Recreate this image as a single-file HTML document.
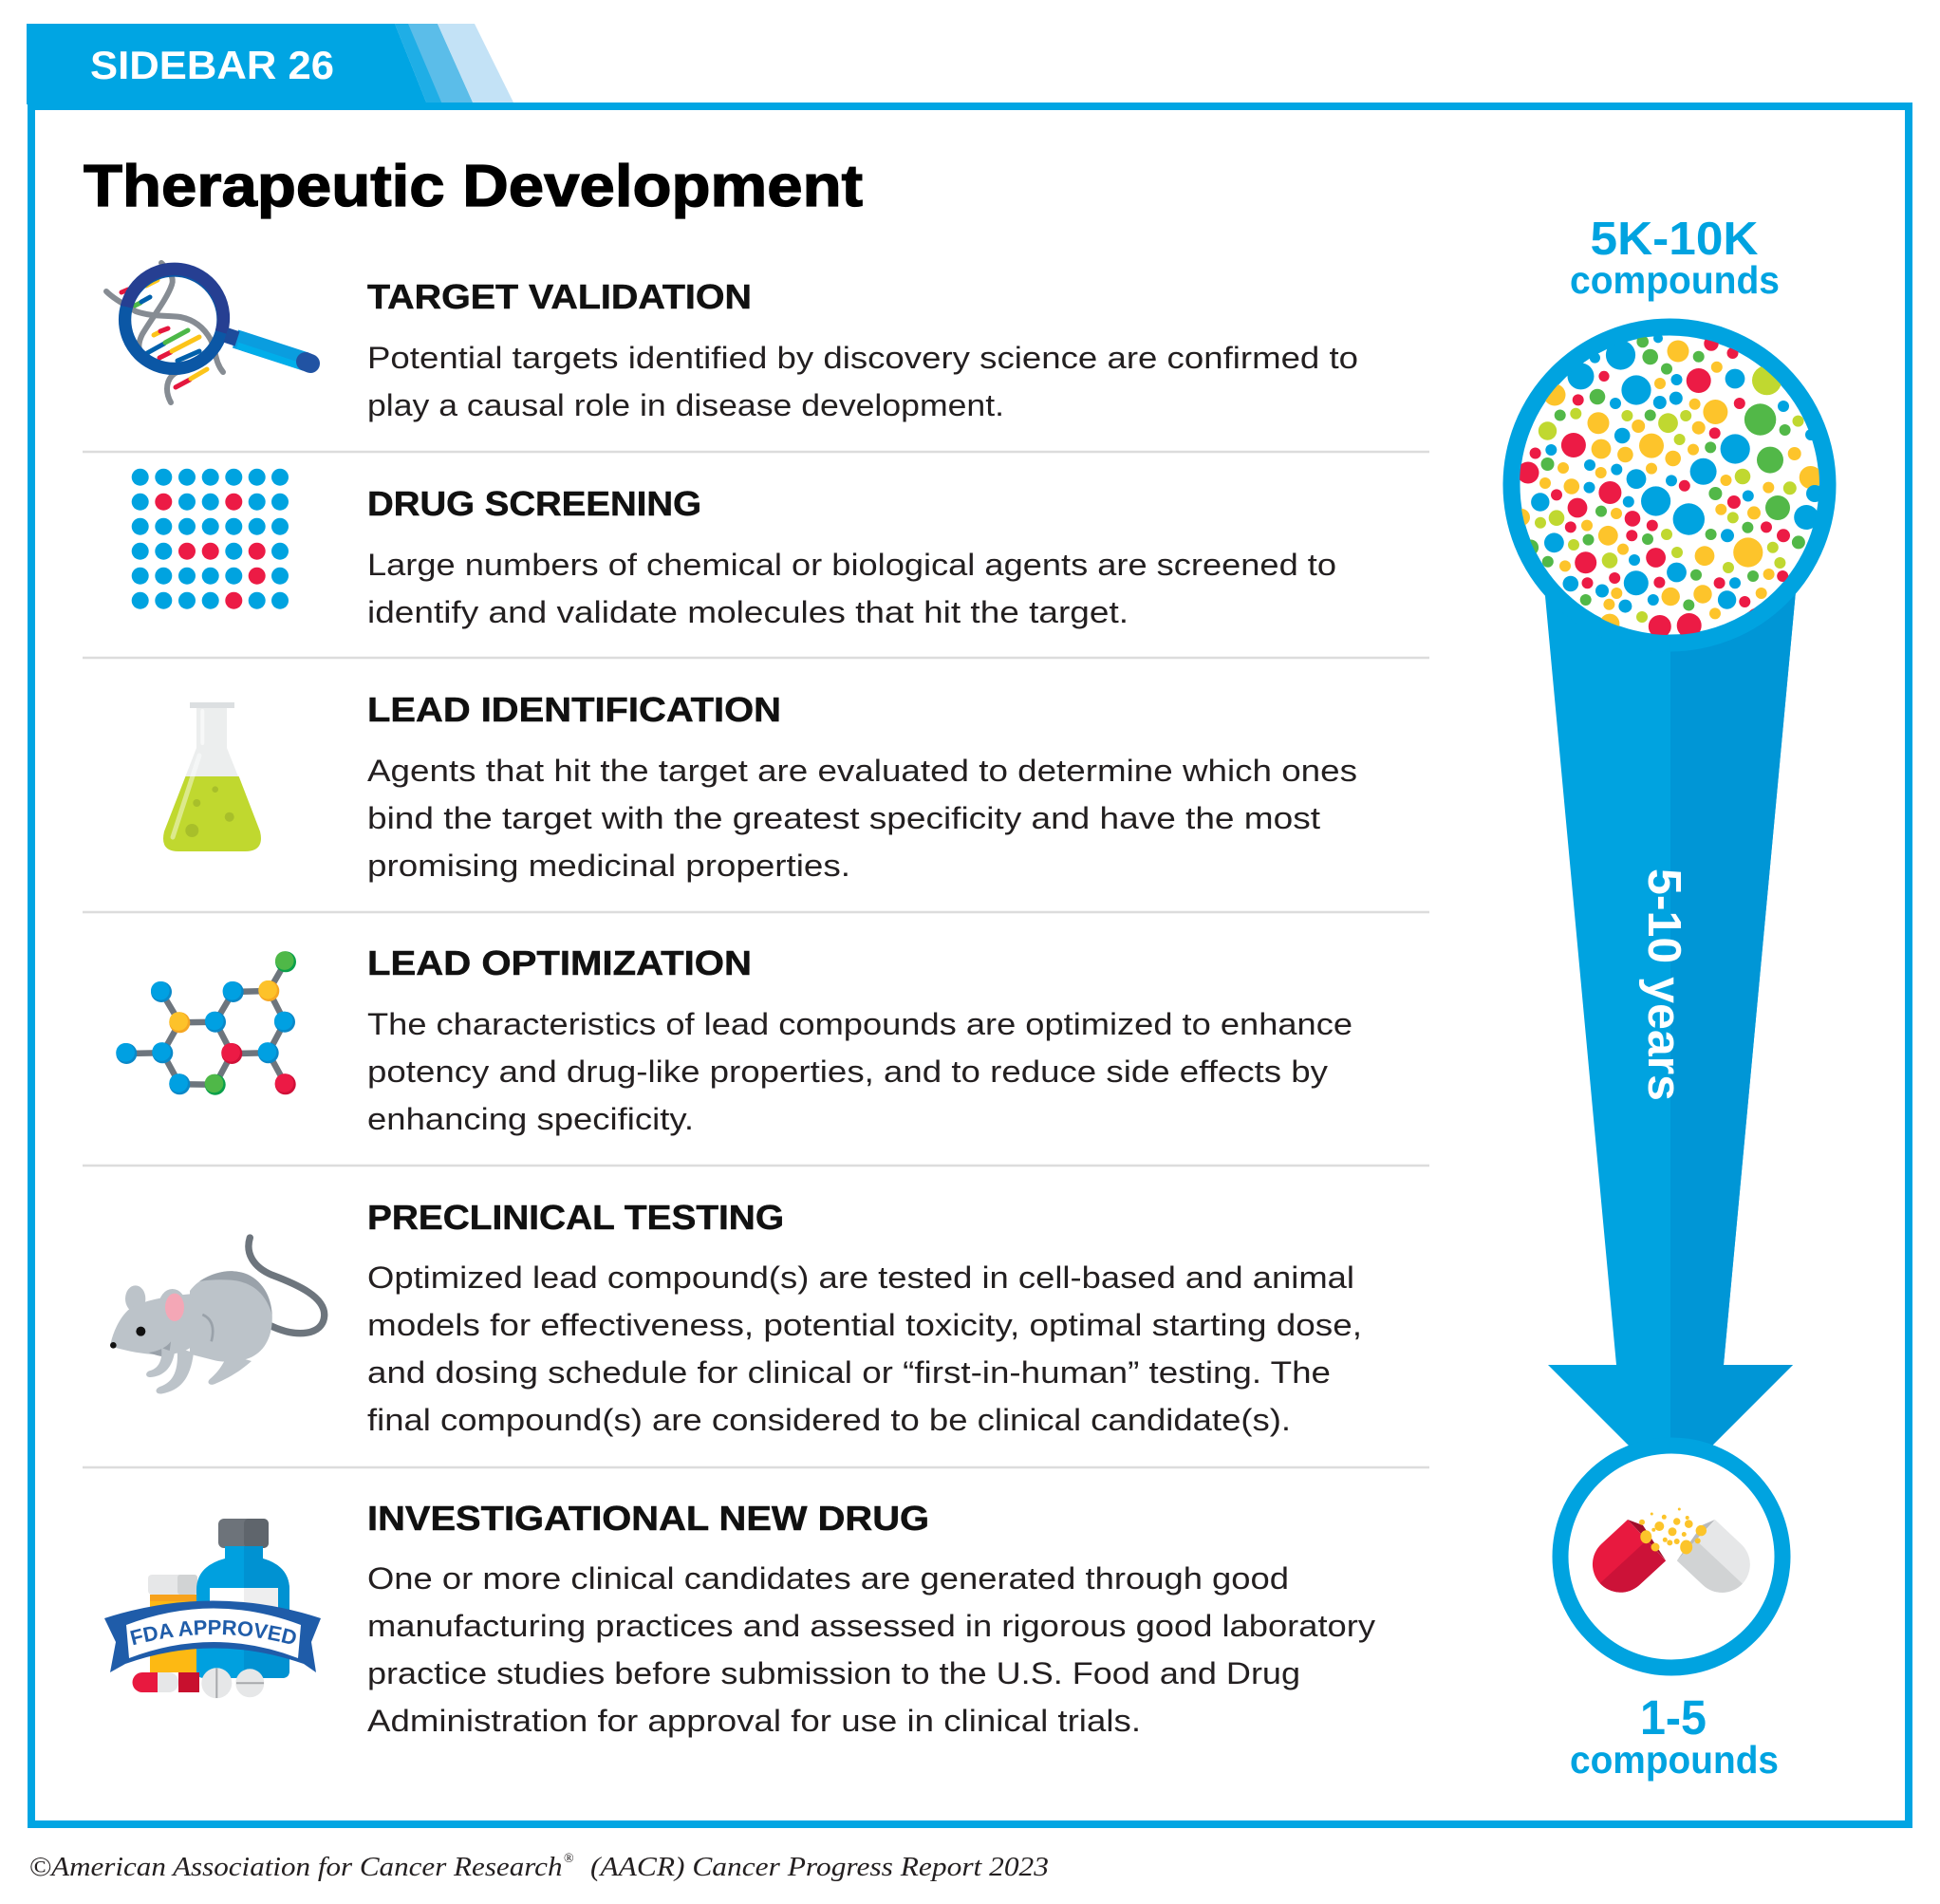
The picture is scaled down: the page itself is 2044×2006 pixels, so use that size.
<!DOCTYPE html>
<html><head><meta charset="utf-8"><style>
html,body{margin:0;padding:0;background:#fff;}
svg{display:block;}
.h{font-family:"Liberation Sans",Arial,sans-serif;font-weight:bold;font-size:36px;fill:#111;stroke:#111;stroke-width:0.5;}
.t{font-family:"Liberation Sans",Arial,sans-serif;font-size:32px;fill:#231f20;}
.b{fill:#00a3e0}.r{fill:#ec1b45}.y{fill:#fdc42b}.g{fill:#52b848}.l{fill:#c0d830}
</style></head><body>
<svg width="2044" height="2006" viewBox="0 0 2044 2006" xmlns="http://www.w3.org/2000/svg">
<defs>
<clipPath id="topc"><circle cx="1759" cy="511" r="158"/></clipPath>
</defs>
<rect width="2044" height="2006" fill="#fff"/>

<!-- Tab -->
<polygon points="28,25 416,25 450,110 28,110" fill="#00a5e3"/>
<polygon points="416,25 461,25 499,110 450,110" fill="#5bbde9"/>
<polygon points="416,25 430,25 466,110 450,110" fill="#1faee6"/>
<polygon points="461,25 500,25 542,110 499,110" fill="#c3e2f6"/>
<text x="95" y="83" font-family="Liberation Sans, Arial, sans-serif" font-weight="bold" font-size="42" fill="#fff" textLength="257" lengthAdjust="spacingAndGlyphs">SIDEBAR 26</text>

<!-- Box -->
<rect x="33" y="112" width="1978" height="1810" fill="none" stroke="#00a5e3" stroke-width="8"/>

<!-- Title -->
<text x="88" y="217" font-family="Liberation Sans, Arial, sans-serif" font-weight="bold" font-size="62" fill="#000" stroke="#000" stroke-width="1.3" textLength="821" lengthAdjust="spacingAndGlyphs">Therapeutic Development</text>

<!-- Dividers -->
<g stroke="#dcdcdc" stroke-width="2.5">
<line x1="87" y1="476" x2="1506" y2="476"/>
<line x1="87" y1="693" x2="1506" y2="693"/>
<line x1="87" y1="961" x2="1506" y2="961"/>
<line x1="87" y1="1228" x2="1506" y2="1228"/>
<line x1="87" y1="1546" x2="1506" y2="1546"/>
</g>

<!-- Headings -->
<text class="h" x="387" y="325" textLength="405" lengthAdjust="spacingAndGlyphs">TARGET VALIDATION</text>
<text class="h" x="387" y="543" textLength="352" lengthAdjust="spacingAndGlyphs">DRUG SCREENING</text>
<text class="h" x="387" y="760" textLength="436" lengthAdjust="spacingAndGlyphs">LEAD IDENTIFICATION</text>
<text class="h" x="387" y="1027" textLength="405" lengthAdjust="spacingAndGlyphs">LEAD OPTIMIZATION</text>
<text class="h" x="387" y="1295" textLength="439" lengthAdjust="spacingAndGlyphs">PRECLINICAL TESTING</text>
<text class="h" x="387" y="1612" textLength="592" lengthAdjust="spacingAndGlyphs">INVESTIGATIONAL NEW DRUG</text>

<!-- Body -->
<text class="t" x="387" y="388" textLength="1044" lengthAdjust="spacingAndGlyphs">Potential targets identified by discovery science are confirmed to</text>
<text class="t" x="387" y="438" textLength="671" lengthAdjust="spacingAndGlyphs">play a causal role in disease development.</text>

<text class="t" x="387" y="606" textLength="1021" lengthAdjust="spacingAndGlyphs">Large numbers of chemical or biological agents are screened to</text>
<text class="t" x="387" y="656" textLength="802" lengthAdjust="spacingAndGlyphs">identify and validate molecules that hit the target.</text>

<text class="t" x="387" y="823" textLength="1043" lengthAdjust="spacingAndGlyphs">Agents that hit the target are evaluated to determine which ones</text>
<text class="t" x="387" y="873" textLength="1004" lengthAdjust="spacingAndGlyphs">bind the target with the greatest specificity and have the most</text>
<text class="t" x="387" y="923" textLength="509" lengthAdjust="spacingAndGlyphs">promising medicinal properties.</text>

<text class="t" x="387" y="1090" textLength="1038" lengthAdjust="spacingAndGlyphs">The characteristics of lead compounds are optimized to enhance</text>
<text class="t" x="387" y="1140" textLength="1012" lengthAdjust="spacingAndGlyphs">potency and drug-like properties, and to reduce side effects by</text>
<text class="t" x="387" y="1190" textLength="344" lengthAdjust="spacingAndGlyphs">enhancing specificity.</text>

<text class="t" x="387" y="1357" textLength="1040" lengthAdjust="spacingAndGlyphs">Optimized lead compound(s) are tested in cell-based and animal</text>
<text class="t" x="387" y="1407" textLength="1048" lengthAdjust="spacingAndGlyphs">models for effectiveness, potential toxicity, optimal starting dose,</text>
<text class="t" x="387" y="1457" textLength="1015" lengthAdjust="spacingAndGlyphs">and dosing schedule for clinical or “first-in-human” testing. The</text>
<text class="t" x="387" y="1507" textLength="973" lengthAdjust="spacingAndGlyphs">final compound(s) are considered to be clinical candidate(s).</text>

<text class="t" x="387" y="1674" textLength="971" lengthAdjust="spacingAndGlyphs">One or more clinical candidates are generated through good</text>
<text class="t" x="387" y="1724" textLength="1062" lengthAdjust="spacingAndGlyphs">manufacturing practices and assessed in rigorous good laboratory</text>
<text class="t" x="387" y="1774" textLength="983" lengthAdjust="spacingAndGlyphs">practice studies before submission to the U.S. Food and Drug</text>
<text class="t" x="387" y="1824" textLength="815" lengthAdjust="spacingAndGlyphs">Administration for approval for use in clinical trials.</text>

<!-- Icon 1: magnifier with DNA -->
<g fill="none" stroke-linecap="round">
<path d="M170,277 C178,285 184,292 181,300 C176,315 160,335 150,352 C146,360 146,365 147,368" stroke="#868c93" stroke-width="6"/>
<path d="M112,307 C118,313 126,318 143,328 C160,334 175,332 190,334 C205,337 215,345 222,358 C228,370 226,381 235,392" stroke="#868c93" stroke-width="6"/>
<path d="M180,424 C175,415 174,404 181,396 C186,391 192,390 197,389" stroke="#868c93" stroke-width="6"/>
<line x1="128" y1="308" x2="135" y2="305" stroke="#e4173e" stroke-width="5"/>
<line x1="154" y1="301" x2="166" y2="295" stroke="#fcc419" stroke-width="5"/>
<line x1="142" y1="322" x2="148" y2="319" stroke="#4cb848" stroke-width="5"/>
<line x1="149" y1="318" x2="158" y2="313" stroke="#0060ab" stroke-width="5"/>
<line x1="162" y1="353" x2="168" y2="350" stroke="#fcc419" stroke-width="5"/>
<line x1="169" y1="349" x2="177" y2="346" stroke="#e4173e" stroke-width="5"/>
<line x1="155" y1="372" x2="173" y2="362" stroke="#0060ab" stroke-width="5"/>
<line x1="174" y1="361" x2="198" y2="348" stroke="#4cb848" stroke-width="5"/>
<line x1="168" y1="377" x2="180" y2="371" stroke="#e4173e" stroke-width="5"/>
<line x1="181" y1="370" x2="210" y2="355" stroke="#fcc419" stroke-width="5"/>
<line x1="187" y1="380" x2="210" y2="370" stroke="#0060ab" stroke-width="5"/>
<line x1="185" y1="408" x2="200" y2="400" stroke="#e4173e" stroke-width="5"/>
<line x1="201" y1="399" x2="218" y2="389" stroke="#fcc419" stroke-width="5"/>
</g>
<circle cx="183.3" cy="336.7" r="51.7" fill="none" stroke="#0b57a5" stroke-width="13.3"/>
<path d="M133.4,323.3 A51.7,51.7 0 1 1 233.2,350.1" fill="none" stroke="#263f92" stroke-width="13.3"/>
<line x1="248" y1="357" x2="322" y2="381" stroke="#0a9ddf" stroke-width="20"/>
<line x1="250" y1="364" x2="320" y2="387" stroke="#00aeea" stroke-width="7"/>
<line x1="322" y1="381" x2="327" y2="383" stroke="#2153a3" stroke-width="20" stroke-linecap="round"/>
<line x1="238" y1="353" x2="250" y2="357" stroke="#1d4b9b" stroke-width="16"/>

<!-- Icon 2: dot grid -->
<g>
<circle class="b" cx="147.7" cy="502.7" r="9"/><circle class="b" cx="172.3" cy="502.7" r="9"/><circle class="b" cx="197" cy="502.7" r="9"/><circle class="b" cx="221.7" cy="502.7" r="9"/><circle class="b" cx="246.3" cy="502.7" r="9"/><circle class="b" cx="270.7" cy="502.7" r="9"/><circle class="b" cx="295" cy="502.7" r="9"/>
<circle class="b" cx="147.7" cy="528.7" r="9"/><circle class="r" cx="172.3" cy="528.7" r="9"/><circle class="b" cx="197" cy="528.7" r="9"/><circle class="b" cx="221.7" cy="528.7" r="9"/><circle class="r" cx="246.3" cy="528.7" r="9"/><circle class="b" cx="270.7" cy="528.7" r="9"/><circle class="b" cx="295" cy="528.7" r="9"/>
<circle class="b" cx="147.7" cy="554.7" r="9"/><circle class="b" cx="172.3" cy="554.7" r="9"/><circle class="b" cx="197" cy="554.7" r="9"/><circle class="b" cx="221.7" cy="554.7" r="9"/><circle class="b" cx="246.3" cy="554.7" r="9"/><circle class="b" cx="270.7" cy="554.7" r="9"/><circle class="b" cx="295" cy="554.7" r="9"/>
<circle class="b" cx="147.7" cy="580.7" r="9"/><circle class="b" cx="172.3" cy="580.7" r="9"/><circle class="r" cx="197" cy="580.7" r="9"/><circle class="r" cx="221.7" cy="580.7" r="9"/><circle class="b" cx="246.3" cy="580.7" r="9"/><circle class="r" cx="270.7" cy="580.7" r="9"/><circle class="b" cx="295" cy="580.7" r="9"/>
<circle class="b" cx="147.7" cy="606.7" r="9"/><circle class="b" cx="172.3" cy="606.7" r="9"/><circle class="b" cx="197" cy="606.7" r="9"/><circle class="b" cx="221.7" cy="606.7" r="9"/><circle class="b" cx="246.3" cy="606.7" r="9"/><circle class="r" cx="270.7" cy="606.7" r="9"/><circle class="b" cx="295" cy="606.7" r="9"/>
<circle class="b" cx="147.7" cy="632.7" r="9"/><circle class="b" cx="172.3" cy="632.7" r="9"/><circle class="b" cx="197" cy="632.7" r="9"/><circle class="b" cx="221.7" cy="632.7" r="9"/><circle class="r" cx="246.3" cy="632.7" r="9"/><circle class="b" cx="270.7" cy="632.7" r="9"/><circle class="b" cx="295" cy="632.7" r="9"/>
</g>

<!-- Icon 3: flask -->
<rect x="200" y="740" width="47" height="6" fill="#dcdfe1"/>
<path d="M207,746 H239 V788 L274,876 Q279,897 258,897 H188 Q168,897 173,876 L207,788 Z" fill="#eceeee"/>
<path d="M195.5,818 H251.7 L274,876 Q279,897 258,897 H188 Q168,897 173,876 Z" fill="#c0d82f"/>
<circle cx="207.3" cy="846" r="4" fill="#a8bf2a"/>
<circle cx="226.7" cy="831.7" r="3.3" fill="#a8bf2a"/>
<circle cx="241.7" cy="860.7" r="5" fill="#a8bf2a"/>
<circle cx="202.3" cy="875" r="7" fill="#a8bf2a"/>
<line x1="213.3" y1="749" x2="213.3" y2="783" stroke="#fff" stroke-opacity="0.6" stroke-width="4" stroke-linecap="round"/>
<line x1="210" y1="796" x2="182" y2="882" stroke="#fff" stroke-opacity="0.45" stroke-width="5" stroke-linecap="round"/>

<!-- Icon 4: molecule -->
<g stroke="#6d757d" stroke-width="6.5" stroke-linecap="round">
<line x1="170" y1="1045" x2="189.3" y2="1077.3"/>
<line x1="189.3" y1="1077.3" x2="227" y2="1076.7"/>
<line x1="189.3" y1="1077.3" x2="171.3" y2="1109.3"/>
<line x1="171.3" y1="1109.3" x2="133.3" y2="1110"/>
<line x1="171.3" y1="1109.3" x2="189.3" y2="1142.3"/>
<line x1="189.3" y1="1142.3" x2="226.7" y2="1142.7"/>
<line x1="226.7" y1="1142.7" x2="244.3" y2="1110"/>
<line x1="244.3" y1="1110" x2="227" y2="1076.7"/>
<line x1="227" y1="1076.7" x2="245.7" y2="1045"/>
<line x1="245.7" y1="1045" x2="283.3" y2="1044"/>
<line x1="283.3" y1="1044" x2="301" y2="1013.3"/>
<line x1="283.3" y1="1044" x2="300" y2="1076.7"/>
<line x1="300" y1="1076.7" x2="282.7" y2="1109.3"/>
<line x1="282.7" y1="1109.3" x2="244.3" y2="1110"/>
<line x1="282.7" y1="1109.3" x2="300.7" y2="1142.3"/>
</g>
<g>
<circle cx="170" cy="1045" r="11" fill="#0a88c8"/><circle cx="168.8" cy="1043.8" r="9.8" fill="#00a0e2"/>
<circle cx="189.3" cy="1077.3" r="11" fill="#f5a623"/><circle cx="188.1" cy="1076.1" r="9.8" fill="#fdc22a"/>
<circle cx="227" cy="1076.7" r="11" fill="#0a88c8"/><circle cx="225.8" cy="1075.5" r="9.8" fill="#00a0e2"/>
<circle cx="245.7" cy="1045" r="11" fill="#0a88c8"/><circle cx="244.5" cy="1043.8" r="9.8" fill="#00a0e2"/>
<circle cx="283.3" cy="1044" r="11" fill="#f5a623"/><circle cx="282.1" cy="1042.8" r="9.8" fill="#fdc22a"/>
<circle cx="301" cy="1013.3" r="11" fill="#0aa04a"/><circle cx="299.8" cy="1012.1" r="9.8" fill="#4fb848"/>
<circle cx="300" cy="1076.7" r="11" fill="#0a88c8"/><circle cx="298.8" cy="1075.5" r="9.8" fill="#00a0e2"/>
<circle cx="282.7" cy="1109.3" r="11" fill="#0a88c8"/><circle cx="281.5" cy="1108.1" r="9.8" fill="#00a0e2"/>
<circle cx="300.7" cy="1142.3" r="11" fill="#d01038"/><circle cx="299.5" cy="1141.1" r="9.8" fill="#ec1a45"/>
<circle cx="244.3" cy="1110" r="11" fill="#d01038"/><circle cx="243.1" cy="1108.8" r="9.8" fill="#ec1a45"/>
<circle cx="226.7" cy="1142.7" r="11" fill="#0aa04a"/><circle cx="225.5" cy="1141.5" r="9.8" fill="#4fb848"/>
<circle cx="189.3" cy="1142.3" r="11" fill="#0a88c8"/><circle cx="188.1" cy="1141.1" r="9.8" fill="#00a0e2"/>
<circle cx="171.3" cy="1109.3" r="11" fill="#0a88c8"/><circle cx="170.1" cy="1108.1" r="9.8" fill="#00a0e2"/>
<circle cx="133.3" cy="1110" r="11" fill="#0a88c8"/><circle cx="132.1" cy="1108.8" r="9.8" fill="#00a0e2"/>
</g>

<!-- Icon 5: mouse -->
<g transform="translate(100,980) scale(0.33333)">
<path d="M555,1250 C640,1290 720,1280 725,1220 C730,1160 640,1120 560,1090 C500,1065 475,1020 490,972" fill="none" stroke="#6d757d" stroke-width="22" stroke-linecap="round"/>
<path d="M420,1340 C400,1385 380,1405 362,1420 C352,1432 365,1442 382,1433 C415,1418 455,1398 495,1362 Z" fill="#bcc3c9"/>
<path d="M300,1140 C330,1100 380,1078 430,1078 C500,1078 555,1130 560,1210 C565,1290 530,1345 470,1358 C430,1365 400,1365 380,1360 L300,1340 Z" fill="#bcc3c9"/>
<path d="M330,1110 C370,1085 410,1075 440,1078 C510,1082 555,1140 560,1215 C540,1150 500,1112 430,1106 C395,1103 360,1105 330,1110 Z" fill="#9aa2aa"/>
<path d="M340,1215 Q385,1235 368,1300" fill="none" stroke="#9aa2aa" stroke-width="8"/>
<path d="M260,1320 C265,1390 250,1428 205,1443 C188,1450 190,1468 212,1465 C268,1455 302,1420 312,1335 Z" fill="#bcc3c9"/>
<ellipse cx="128" cy="1165" rx="32" ry="42" fill="#bcc3c9"/>
<path d="M50,1305 C60,1260 90,1200 130,1185 C180,1165 240,1155 300,1150 L350,1240 C340,1300 300,1335 240,1340 C180,1345 120,1335 60,1318 Z" fill="#bcc3c9"/>
<path d="M170,1335 C200,1330 225,1320 240,1300 C238,1320 235,1340 230,1350 C210,1348 185,1342 170,1335 Z" fill="#9aa2aa"/>
<path d="M210,1320 C215,1360 200,1385 175,1392 C158,1396 158,1414 176,1413 C212,1410 242,1390 252,1335 Z" fill="#bcc3c9"/>
<ellipse cx="245" cy="1190" rx="44" ry="56" fill="#bcc3c9"/>
<ellipse cx="252" cy="1192" rx="30" ry="44" fill="#f4a7b6"/>
<circle cx="145" cy="1268" r="15" fill="#111"/>
<circle cx="58" cy="1312" r="10" fill="#111"/>
</g>

<!-- Icon 6: FDA approved -->
<rect x="158" y="1680" width="49" height="82" fill="#fdb913"/>
<rect x="158" y="1680" width="49" height="7" fill="#f7a21b"/>
<rect x="156" y="1659" width="52" height="21" rx="4" fill="#e6e7e8"/>
<rect x="187" y="1659" width="21" height="21" rx="3" fill="#d1d3d4"/>
<rect x="230" y="1600" width="53" height="31" rx="6" fill="#6d737a"/>
<rect x="257" y="1600" width="26" height="31" rx="5" fill="#5f656c"/>
<path d="M237,1629 H277 V1642 Q305,1650 305,1675 V1760 Q305,1768 297,1768 H215 Q207,1768 207,1760 V1675 Q207,1650 237,1642 Z" fill="#00a0df"/>
<path d="M257,1629 H277 V1642 Q305,1650 305,1675 V1760 Q305,1768 297,1768 H257 Z" fill="#0092d2"/>
<rect x="221" y="1673" width="72" height="50" fill="#ffffff"/>
<rect x="257" y="1673" width="36" height="50" fill="#eeeeef"/>
<rect x="140" y="1762" width="48" height="21" rx="10" fill="#e6e7e8"/>
<path d="M150,1762 H166 V1783 H150 A10,10 0 0 1 150,1762 Z" fill="#e8193f"/>
<rect x="188" y="1762" width="22" height="21" fill="#c8102e"/>
<circle cx="228.3" cy="1773.3" r="16" fill="#e6e7e8"/>
<line x1="228.3" y1="1757.5" x2="228.3" y2="1789" stroke="#a7a9ac" stroke-width="2"/>
<circle cx="263.3" cy="1773.3" r="15" fill="#e6e7e8"/>
<line x1="249" y1="1773.3" x2="278" y2="1773.3" stroke="#a7a9ac" stroke-width="2"/>
<path d="M110,1705 Q225,1668 338,1705 L328,1730 L333,1762 L320,1753 Q225,1720 132,1753 L116,1762 L122,1730 Z" fill="#1f5ca9"/>
<path d="M133,1712 Q225,1677 317,1712 L314,1747 Q225,1713 136,1747 Z" fill="#fff"/>
<path id="fdaarc" d="M138,1734 Q225,1710 312,1734" fill="none"/>
<text font-family="Liberation Sans, Arial, sans-serif" font-weight="bold" font-size="22" fill="#1f5ca9"><textPath href="#fdaarc" startOffset="50%" text-anchor="middle">FDA APPROVED</textPath></text>

<!-- Right funnel -->
<polygon points="1628,628 1892,623 1816,1438 1889,1438 1760,1567 1631,1438 1703,1438" fill="#00a3e0"/>
<polygon points="1760,640 1892,623 1816,1438 1889,1438 1760,1567" fill="#0096d6"/>
<circle cx="1759" cy="511" r="166.5" fill="#fff" stroke="#00a3e0" stroke-width="18"/>
<g clip-path="url(#topc)">
<circle class="b" cx="1707.5" cy="374" r="15.6"/><circle class="g" cx="1730.7" cy="360" r="6.3"/><circle class="b" cx="1747" cy="356.4" r="5"/>
<circle class="y" cx="1768" cy="370" r="11.5"/><circle class="r" cx="1803" cy="362" r="7.7"/><circle class="g" cx="1789.7" cy="375.7" r="6"/>
<circle class="r" cx="1825.5" cy="372" r="6"/><circle class="g" cx="1738.7" cy="376" r="8.3"/><circle class="b" cx="1680.4" cy="377" r="5.6"/>
<circle class="b" cx="1665.5" cy="396.4" r="14"/><circle class="r" cx="1690" cy="396.4" r="5.6"/><circle class="g" cx="1756" cy="388.6" r="6"/>
<circle class="b" cx="1766.5" cy="400" r="6"/><circle class="y" cx="1749" cy="404" r="6"/><circle class="r" cx="1789.7" cy="401" r="13"/>
<circle class="y" cx="1808.8" cy="386.8" r="6"/><circle class="b" cx="1828" cy="399" r="10.4"/><circle class="l" cx="1861.6" cy="400.7" r="15.6"/>
<circle class="b" cx="1724" cy="411" r="15.6"/><circle class="g" cx="1683" cy="418" r="8.3"/><circle class="r" cx="1662.7" cy="421.4" r="6"/>
<circle class="y" cx="1638" cy="416" r="11.5"/><circle class="b" cx="1702" cy="425" r="6"/><circle class="b" cx="1748.8" cy="424" r="7"/>
<circle class="b" cx="1765.8" cy="419.6" r="7"/><circle class="y" cx="1785.6" cy="425.7" r="6"/><circle class="y" cx="1807.4" cy="434" r="13"/>
<circle class="r" cx="1832.8" cy="425" r="6"/><circle class="g" cx="1854.6" cy="442" r="16.7"/><circle class="b" cx="1879" cy="428" r="6"/>
<circle class="l" cx="1894.5" cy="443.6" r="6"/><circle class="g" cx="1880.6" cy="453" r="6"/><circle class="g" cx="1643.7" cy="437.5" r="6"/>
<circle class="l" cx="1660.3" cy="435.7" r="6"/><circle class="y" cx="1684" cy="445.7" r="11.5"/><circle class="l" cx="1714.4" cy="438" r="6"/>
<circle class="y" cx="1726.2" cy="449" r="7"/><circle class="g" cx="1738.7" cy="437.5" r="6"/><circle class="l" cx="1757.5" cy="445.7" r="10.4"/>
<circle class="l" cx="1776.2" cy="438" r="6"/><circle class="y" cx="1789.7" cy="450.7" r="7"/><circle class="l" cx="1630.5" cy="454" r="9.7"/>
<circle class="r" cx="1657.9" cy="469" r="13"/><circle class="b" cx="1634.3" cy="474" r="6"/><circle class="r" cx="1617.6" cy="477.5" r="6"/>
<circle class="b" cx="1709.2" cy="459" r="8.3"/><circle class="y" cx="1687" cy="473" r="10.4"/><circle class="y" cx="1712.4" cy="479" r="8.3"/>
<circle class="y" cx="1740" cy="469.6" r="13"/><circle class="l" cx="1769.6" cy="463" r="6"/><circle class="y" cx="1784" cy="473.6" r="6"/>
<circle class="r" cx="1806.7" cy="456.4" r="6"/><circle class="g" cx="1802.2" cy="471.4" r="6"/><circle class="b" cx="1828.2" cy="473" r="15.6"/>
<circle class="g" cx="1865" cy="484.6" r="14"/><circle class="y" cx="1890.7" cy="478" r="7"/><circle class="b" cx="1908" cy="458" r="6"/>
<circle class="y" cx="1907.7" cy="503" r="12"/><circle class="r" cx="1610" cy="498" r="11.5"/><circle class="g" cx="1630.5" cy="489" r="7"/>
<circle class="y" cx="1647" cy="493" r="6"/><circle class="b" cx="1675" cy="490" r="6"/><circle class="y" cx="1686.7" cy="498" r="6"/>
<circle class="b" cx="1703.3" cy="494.6" r="6"/><circle class="b" cx="1724" cy="504.6" r="10.4"/><circle class="y" cx="1740" cy="493.6" r="6"/>
<circle class="y" cx="1762.7" cy="483" r="8.3"/><circle class="b" cx="1794.6" cy="496.8" r="14"/><circle class="b" cx="1761" cy="506.4" r="6"/>
<circle class="r" cx="1774.8" cy="511.8" r="6"/><circle class="y" cx="1818.5" cy="506" r="6"/><circle class="l" cx="1836" cy="502" r="8.3"/>
<circle class="y" cx="1863.3" cy="513.6" r="6"/><circle class="l" cx="1885.8" cy="514.3" r="7"/><circle class="y" cx="1628" cy="509" r="6"/>
<circle class="y" cx="1655.8" cy="512.5" r="8.3"/><circle class="b" cx="1674.5" cy="513.6" r="6"/><circle class="r" cx="1696.4" cy="519" r="12"/>
<circle class="b" cx="1715.8" cy="528.6" r="6"/><circle class="b" cx="1622.8" cy="529" r="9.7"/><circle class="r" cx="1640" cy="521.4" r="6"/>
<circle class="r" cx="1662" cy="535" r="10.4"/><circle class="b" cx="1744.6" cy="528" r="15.6"/><circle class="g" cx="1807.4" cy="520" r="7"/>
<circle class="r" cx="1826.9" cy="529" r="7"/><circle class="b" cx="1841.8" cy="522.5" r="6"/><circle class="g" cx="1873" cy="535" r="13"/>
<circle class="b" cx="1903.2" cy="545" r="13"/><circle class="l" cx="1640" cy="545.7" r="8.3"/><circle class="l" cx="1623" cy="550.7" r="6"/>
<circle class="g" cx="1687" cy="538.6" r="6"/><circle class="y" cx="1703" cy="541" r="6"/><circle class="r" cx="1720" cy="546.4" r="8.3"/>
<circle class="b" cx="1779.3" cy="547" r="16.7"/><circle class="y" cx="1813.3" cy="536.8" r="6"/><circle class="l" cx="1825.8" cy="545.4" r="6"/>
<circle class="y" cx="1848" cy="540.4" r="7"/><circle class="r" cx="1654.8" cy="555.4" r="6"/><circle class="y" cx="1672" cy="553.6" r="6"/>
<circle class="y" cx="1694.3" cy="564.3" r="10.4"/><circle class="r" cx="1719.3" cy="564.3" r="6"/><circle class="g" cx="1736" cy="568" r="6"/>
<circle class="r" cx="1740.8" cy="553.6" r="6"/><circle class="l" cx="1756" cy="563" r="6"/><circle class="g" cx="1802.6" cy="563" r="6"/>
<circle class="b" cx="1820" cy="564.3" r="7"/><circle class="g" cx="1841.4" cy="555.7" r="6"/><circle class="r" cx="1861" cy="555.4" r="6"/>
<circle class="r" cx="1879" cy="564.3" r="7"/><circle class="g" cx="1894.9" cy="571.4" r="7"/><circle class="b" cx="1637.4" cy="571.8" r="10.4"/>
<circle class="g" cx="1612.8" cy="576.8" r="8.3"/><circle class="l" cx="1658" cy="574" r="6"/><circle class="g" cx="1673.5" cy="568.6" r="6"/>
<circle class="y" cx="1710" cy="578.6" r="6"/><circle class="y" cx="1841.8" cy="582" r="15.6"/><circle class="y" cx="1796" cy="585.7" r="10.4"/>
<circle class="l" cx="1767" cy="582" r="6"/><circle class="l" cx="1867.8" cy="576.8" r="6"/><circle class="g" cx="1630.8" cy="591.8" r="6"/>
<circle class="y" cx="1649" cy="596.4" r="6"/><circle class="r" cx="1670.7" cy="592.8" r="11.5"/><circle class="l" cx="1696" cy="590.4" r="8.3"/>
<circle class="b" cx="1722" cy="590" r="6"/><circle class="r" cx="1744.6" cy="587.5" r="10.4"/><circle class="b" cx="1766.5" cy="603" r="10.4"/>
<circle class="g" cx="1787" cy="605.7" r="6"/><circle class="l" cx="1821" cy="598" r="6"/><circle class="l" cx="1875.4" cy="593" r="6"/>
<circle class="y" cx="1863.6" cy="605" r="6"/><circle class="r" cx="1878.2" cy="607" r="6"/><circle class="b" cx="1654.8" cy="615" r="8.3"/>
<circle class="r" cx="1672.5" cy="614.3" r="6"/><circle class="b" cx="1688" cy="622.5" r="7"/><circle class="r" cx="1701.2" cy="609" r="6"/>
<circle class="y" cx="1703.3" cy="625" r="6"/><circle class="b" cx="1723.8" cy="614.3" r="13"/><circle class="r" cx="1748.4" cy="613.6" r="6"/>
<circle class="y" cx="1760.2" cy="628.6" r="9.7"/><circle class="y" cx="1794" cy="626" r="9.7"/><circle class="r" cx="1811.6" cy="614.3" r="6"/>
<circle class="b" cx="1828" cy="614.3" r="6"/><circle class="b" cx="1819.6" cy="632" r="9.7"/><circle class="g" cx="1847" cy="607" r="6"/>
<circle class="r" cx="1838.3" cy="634" r="6"/><circle class="y" cx="1855.7" cy="625" r="6"/><circle class="g" cx="1670.7" cy="632" r="6"/>
<circle class="y" cx="1695.4" cy="636.8" r="6"/><circle class="b" cx="1712.4" cy="638.6" r="7"/><circle class="b" cx="1741.8" cy="632" r="6"/>
<circle class="g" cx="1779.3" cy="637.5" r="6"/><circle class="y" cx="1807" cy="646.4" r="6"/><circle class="l" cx="1730" cy="650" r="6"/>
<circle class="r" cx="1748.8" cy="660" r="12"/><circle class="r" cx="1779.7" cy="659" r="13"/><circle class="y" cx="1696" cy="657" r="10.4"/>
<circle class="y" cx="1605" cy="440" r="10"/><circle class="g" cx="1915" cy="420" r="8"/><circle class="y" cx="1603" cy="545" r="9"/>
<circle class="y" cx="1916" cy="600" r="10"/><circle class="y" cx="1660" cy="375" r="8"/><circle class="b" cx="1912" cy="520" r="9"/>
<circle class="g" cx="1616" cy="605" r="9"/><circle class="r" cx="1900" cy="630" r="8"/><circle class="l" cx="1880" cy="380" r="8"/>
<circle class="r" cx="1850" cy="650" r="9"/><circle class="g" cx="1660" cy="650" r="8"/><circle class="y" cx="1830" cy="665" r="8"/>
</g>
<text x="1764" y="268" text-anchor="middle" font-family="Liberation Sans, Arial, sans-serif" font-weight="bold" font-size="49" fill="#00a3e0" textLength="177" lengthAdjust="spacingAndGlyphs">5K-10K</text>
<text x="1764.5" y="309" text-anchor="middle" font-family="Liberation Sans, Arial, sans-serif" font-weight="bold" font-size="41" fill="#00a3e0" textLength="221" lengthAdjust="spacingAndGlyphs">compounds</text>
<text transform="translate(1737,915) rotate(90)" x="0" y="0" font-family="Liberation Sans, Arial, sans-serif" font-weight="bold" font-size="49" fill="#fff" textLength="245" lengthAdjust="spacingAndGlyphs">5-10 years</text>

<!-- Bottom circle with pill -->
<circle cx="1761" cy="1640" r="117" fill="#fff" stroke="#00a3e0" stroke-width="17"/>
<g transform="translate(1735,1622.7) rotate(137.3)">
<path d="M0,-29.5 H37.5 A29.5,29.5 0 0 1 37.5,29.5 H0 Z" fill="#e8193f"/>
<path d="M0,-29.5 H37.5 A29.5,29.5 0 0 1 67,0 H0 Z" fill="#cc1238"/>
</g>
<polygon points="1715,1601 1731,1607 1755,1644" fill="#a00d2a"/>
<g transform="translate(1787,1622.7) rotate(43.2)">
<path d="M0,-29.5 H37.5 A29.5,29.5 0 0 1 37.5,29.5 H0 Z" fill="#e6e7e8"/>
<path d="M0,0 H67 A29.5,29.5 0 0 1 37.5,29.5 H0 Z" fill="#d1d3d4"/>
</g>
<polygon points="1807,1601 1793,1607 1767,1644" fill="#b8babd"/>
<g fill="#fcc42a">
<ellipse cx="1734.3" cy="1619.2" rx="6" ry="7"/><circle cx="1744" cy="1630" r="4.5"/><circle cx="1748.3" cy="1608" r="5"/>
<circle cx="1762" cy="1613.8" r="4.5"/><circle cx="1766.7" cy="1603" r="3.7"/><circle cx="1779.3" cy="1605.6" r="4.3"/>
<ellipse cx="1776.7" cy="1630" rx="6.5" ry="7.5"/><circle cx="1792.3" cy="1612.6" r="5.7"/><circle cx="1788.7" cy="1623.4" r="3"/>
<circle cx="1759.3" cy="1625.4" r="3"/><circle cx="1753.3" cy="1598.3" r="2.5"/><circle cx="1730" cy="1603.7" r="3"/>
<circle cx="1766.7" cy="1624" r="3"/><circle cx="1740.3" cy="1595" r="1.5"/><circle cx="1769.3" cy="1590" r="1.5"/>
<circle cx="1777.7" cy="1599" r="2"/><circle cx="1774.3" cy="1616.5" r="2.5"/><circle cx="1754.3" cy="1622.3" r="2.5"/><circle cx="1742.3" cy="1611.8" r="2"/>
</g>
<text x="1763" y="1827" text-anchor="middle" font-family="Liberation Sans, Arial, sans-serif" font-weight="bold" font-size="51" fill="#00a3e0" textLength="70" lengthAdjust="spacingAndGlyphs">1-5</text>
<text x="1764" y="1868" text-anchor="middle" font-family="Liberation Sans, Arial, sans-serif" font-weight="bold" font-size="41" fill="#00a3e0" textLength="220" lengthAdjust="spacingAndGlyphs">compounds</text>

<!-- Footer -->
<text x="30.5" y="1976" font-family="Liberation Serif, serif" font-style="italic" font-size="29" fill="#231f20" textLength="562" lengthAdjust="spacingAndGlyphs">©American Association for Cancer Research</text>
<text x="594" y="1962" font-family="Liberation Serif, serif" font-size="14" fill="#231f20">®</text>
<text x="622" y="1976" font-family="Liberation Serif, serif" font-style="italic" font-size="29" fill="#231f20" textLength="483" lengthAdjust="spacingAndGlyphs">(AACR) Cancer Progress Report 2023</text>
</svg>
</body></html>
